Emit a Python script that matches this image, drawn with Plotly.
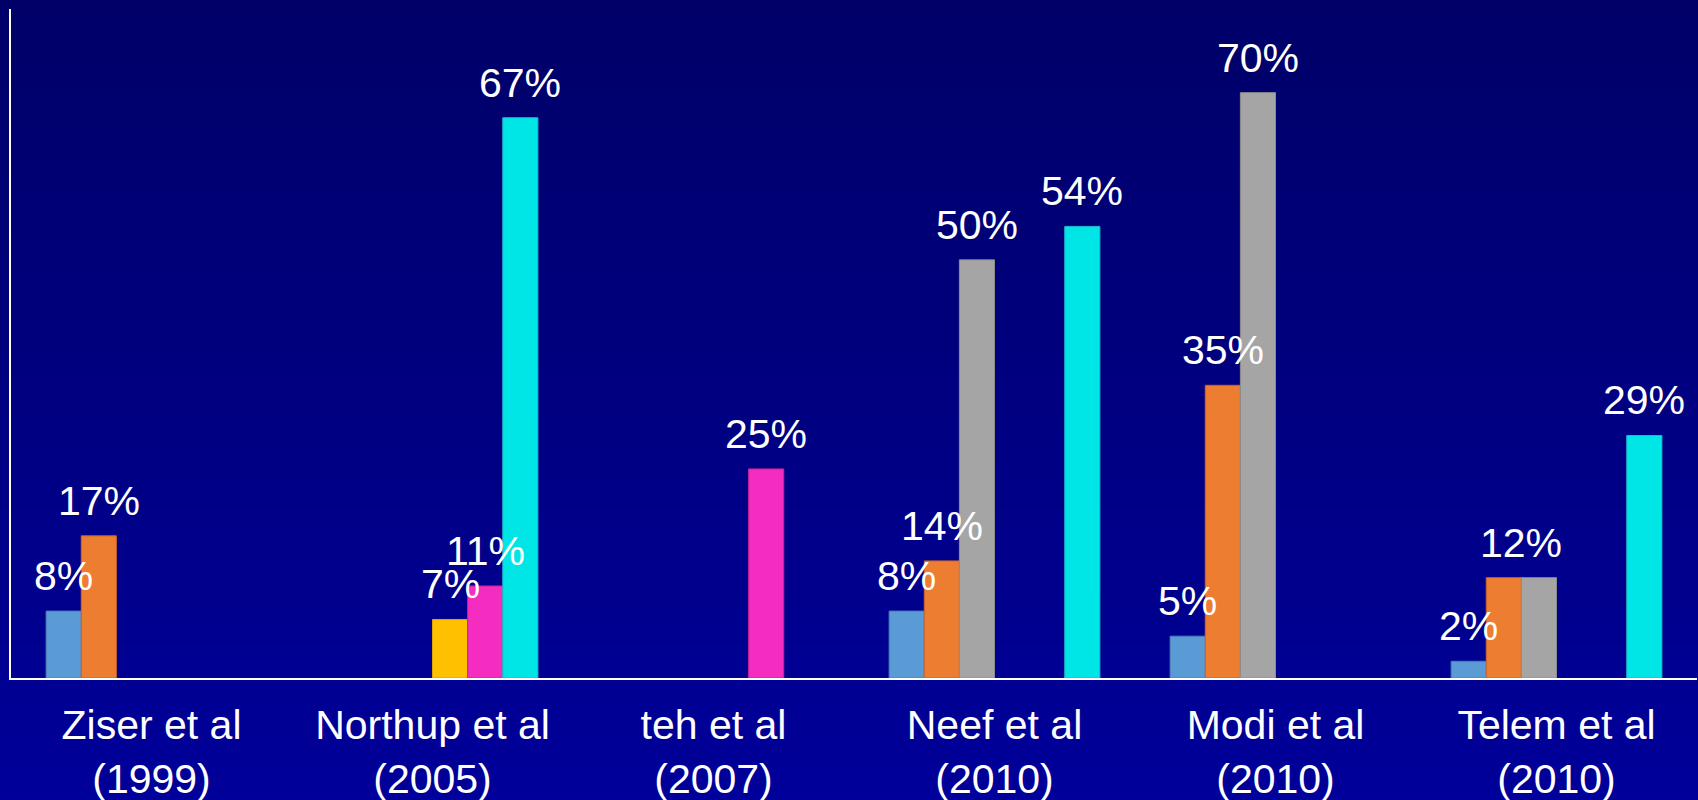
import plotly.graph_objects as go

categories = ["Ziser et al<br>(1999)", "Northup et al<br>(2005)", "teh et al<br>(2007)",
              "Neef et al<br>(2010)", "Modi et al<br>(2010)", "Telem et al<br>(2010)"]
series_names = ["Series 1", "Series 2", "Series 3", "Series 4", "Series 5", "Series 6"]
s1 = [8, None, None, 8, 5, 2]
s2 = [17, None, None, 14, 35, 12]
s3 = [None, None, None, 50, 70, 12]
s4 = [None, 7, None, None, None, None]
s5 = [None, 11, 25, None, None, None]
s6 = [None, 67, None, 54, None, 29]
series_values = [s1, s2, s3, s4, s5, s6]
colors = ["#5B9BD5", "#ED7D31", "#A5A5A5", "#FFC000", "#F52CC0", "#00E5E5"]
line_colors = ["#4A7FB8", "#C8642A", "#8C8C8C", "#D9A300", "#C82498", "#20B8C8"]

BARGAP = 0.25
FONT = "Liberation Sans, Arial, sans-serif"
LABEL_SIZE = 41

x_idx = list(range(len(categories)))
fig = go.Figure()
for name, vals, c, lc in zip(series_names, series_values, colors, line_colors):
    fig.add_trace(go.Bar(x=x_idx, y=vals, name=name, marker=dict(color=c, line=dict(color=lc, width=1)),
                         hoverinfo="y"))

# value labels as annotations (drawn on top of all bars);
# identical values on adjacent bars of a group share one label centred over both
n = len(series_values)
bw = (1 - BARGAP) / n
annotations = []
for j in range(len(categories)):
    i = 0
    while i < n:
        v = series_values[i][j]
        if v is None:
            i += 1
            continue
        k = i
        while k + 1 < n and series_values[k + 1][j] == v:
            k += 1
        pos = j + ((i + k) / 2 - (n - 1) / 2) * bw
        annotations.append(dict(x=pos, y=v, xref="x", yref="y",
                                text=f"{v}%", showarrow=False, yanchor="bottom", xanchor="center",
                                yshift=10, font=dict(family=FONT, size=LABEL_SIZE, color="white")))
        i = k + 1

# vertical gradient background
shapes = []
N = 60
y_bot, y_top = -0.19, 1.02
top_b, bot_b = 104, 154
for k in range(N):
    t = k / (N - 1)
    b = round(bot_b + (top_b - bot_b) * t)
    y0 = y_bot + (y_top - y_bot) * k / N
    y1 = y_bot + (y_top - y_bot) * (k + 1) / N + 0.002
    shapes.append(dict(type="rect", xref="paper", yref="paper", x0=-0.02, x1=1.02, y0=y0, y1=y1,
                       fillcolor=f"rgb(0,0,{b})", line=dict(width=0), layer="below"))

fig.update_layout(
    width=1698, height=800,
    margin=dict(l=11, r=1, t=9, b=122),
    barmode="group", bargap=BARGAP, bargroupgap=0,
    paper_bgcolor="rgb(0,0,128)", plot_bgcolor="rgba(0,0,0,0)",
    showlegend=False,
    shapes=shapes, annotations=annotations,
    font=dict(family=FONT, color="white"),
)
fig.update_xaxes(tickmode="array", tickvals=x_idx, ticktext=categories, range=[-0.5, len(categories) - 0.5],
                 showline=True, linecolor="white", linewidth=2, showgrid=False, zeroline=False,
                 automargin=False,
                 ticks="", tickfont=dict(family=FONT, size=41, color="white"), ticklabelstandoff=10)
fig.update_yaxes(range=[0, 80], showline=True, linecolor="white", linewidth=2, showgrid=False,
                 zeroline=False, showticklabels=False, ticks="", automargin=False)

fig.write_html("out.html")
